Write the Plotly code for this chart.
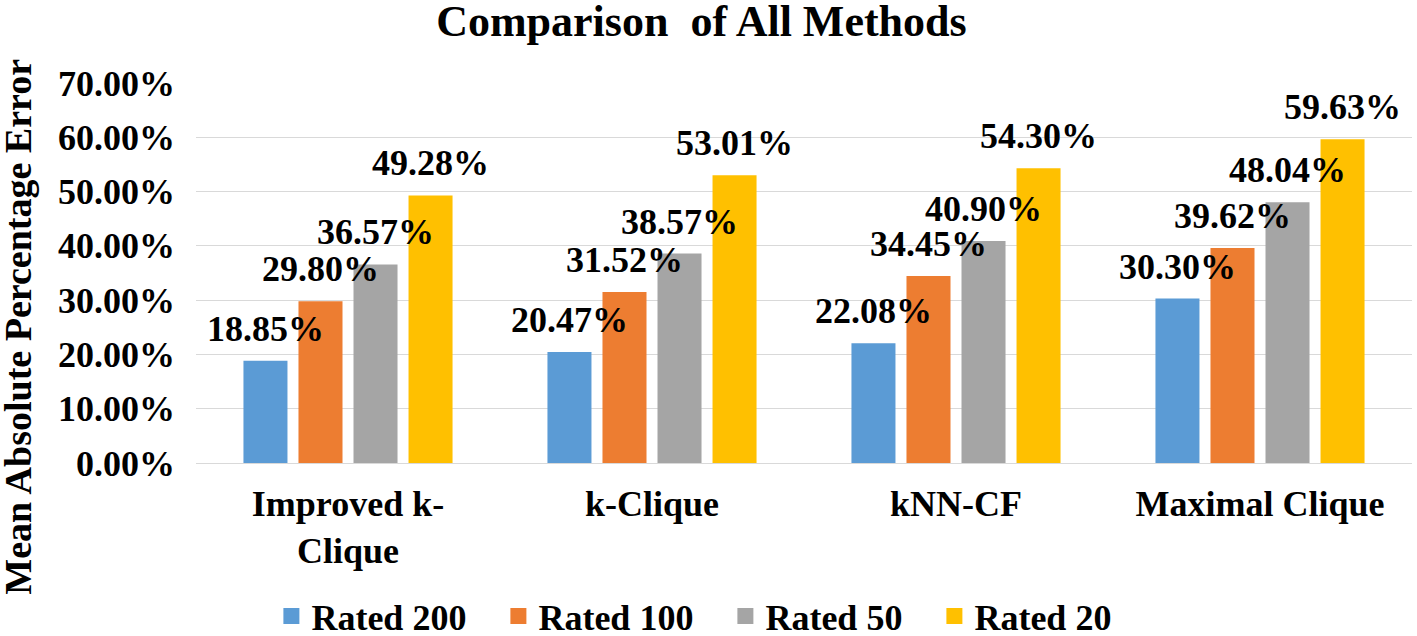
import plotly.graph_objects as go

categories = ["Improved k-<br>Clique", "k-Clique", "kNN-CF", "Maximal Clique"]
series_names = ["Rated 200", "Rated 100", "Rated 50", "Rated 20"]
rated_200 = [18.85, 20.47, 22.08, 30.30]
rated_100 = [29.80, 31.52, 34.45, 39.62]
rated_50 = [36.57, 38.57, 40.90, 48.04]
rated_20 = [49.28, 53.01, 54.30, 59.63]
tick_vals = [0, 10, 20, 30, 40, 50, 60, 70]
tick_text = ["0.00%", "10.00%", "20.00%", "30.00%", "40.00%", "50.00%", "60.00%", "70.00%"]

colors = ["#5b9bd5", "#ed7d31", "#a5a5a5", "#ffc000"]
FONT = "Liberation Serif"
BIG = dict(family=FONT, size=36, color="black", weight="bold")
PAD = "\u00a0\u00a0\u00a0"  # spacing after each legend entry

fig = go.Figure()
all_series = [rated_200, rated_100, rated_50, rated_20]
for name, vals, col in zip(series_names, all_series, colors):
    fig.add_trace(go.Bar(
        x=categories, y=vals, name=name, marker_color=col, marker_line_width=0,
        showlegend=False, hoverinfo="skip",
    ))
# data labels, grouped like the bars
for name, vals, col in zip(series_names, all_series, colors):
    fig.add_trace(go.Scatter(
        x=categories, y=vals, mode="markers+text", name=name,
        text=[f"{v:.2f}%" for v in vals], textposition="top center",
        textfont=BIG, marker=dict(size=16, opacity=0, color=col),
        cliponaxis=False, showlegend=False, hoverinfo="skip",
    ))
# legend entries on an overlaid hidden axis so they don't take group slots
for name, col in zip(series_names, colors):
    fig.add_trace(go.Scatter(
        x=[None], y=[None], mode="markers", name=name + PAD, xaxis="x2",
        marker=dict(symbol="square", size=18, color=col),
    ))

fig.update_layout(
    width=1417, height=636,
    margin=dict(l=196, r=5, t=83, b=173, autoexpand=False),
    paper_bgcolor="white", plot_bgcolor="white",
    barmode="group", bargap=0.276, bargroupgap=0.2,
    scattermode="group", scattergap=0.276,
    title=dict(text="Comparison  of All Methods", x=0.495, xanchor="center",
               y=0.968, yanchor="middle", yref="container",
               font=dict(family=FONT, size=44, color="black", weight="bold")),
    font=BIG,
    legend=dict(orientation="h", x=0.062, xanchor="left", y=-0.403, yanchor="middle",
                yref="paper", font=BIG, itemwidth=30),
    xaxis=dict(showgrid=False, showline=False, ticks="", ticklabelstandoff=16,
               automargin=False, tickfont=BIG),
    xaxis2=dict(overlaying="x", visible=False, automargin=False),
    yaxis=dict(range=[0, 70], tickvals=tick_vals, ticktext=tick_text,
               showgrid=True, gridcolor="#d9d9d9", gridwidth=1.3,
               zeroline=True, zerolinecolor="#d9d9d9", zerolinewidth=1.3,
               showline=False, ticks="", ticklabelstandoff=20, automargin=False,
               tickfont=BIG),
    annotations=[dict(text="Mean Absolute Percentage Error", textangle=-90,
                      xref="paper", yref="paper", x=-0.146, y=0.36,
                      xanchor="center", yanchor="middle", showarrow=False,
                      font=dict(family=FONT, size=38, color="black", weight="bold"))],
)
fig.write_html("out.html", config={"displayModeBar": False},
               post_script="document.body.style.margin='0';document.body.style.overflow='hidden';")
